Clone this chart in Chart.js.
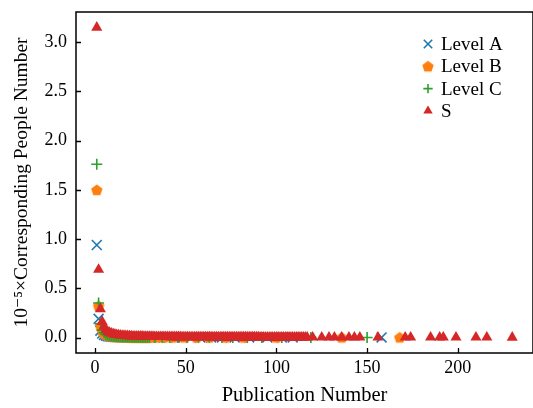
<!DOCTYPE html>
<html>
<head>
<meta charset="utf-8">
<script src="https://cdn.jsdelivr.net/npm/chart.js@4.4.1/dist/chart.umd.min.js"></script>
<style>
  html, body { margin: 0; padding: 0; background: #fff; }
  #chart { display: block; }
</style>
</head>
<body>
<canvas id="chart" width="533" height="408"></canvas>
<script>
// publication number (x) and 10^-5 x people number (y) per level
const aX = [1,2,3,4,5,6,7,8,9,10,11,12,13,14,15,16,17,18,19,20,21,22,23,24,25,26,27,28,29,30,
  33,36,40,44,48,53,58,64,70,77,85,95,103,109,158];
const aY = [0.94,0.19,0.07,0.04,0.026,0.018,0.013,0.010,0.008,0.007,
  0.006,0.005,0.0045,0.004,0.0036,0.0033,0.003,0.0028,0.0026,0.0024,
  0.0022,0.0021,0.002,0.0019,0.0018,0.0017,0.0016,0.0015,0.0015,0.0014,
  0.0013,0.0012,0.0011,0.001,0.001,0.0009,0.0009,0.0008,0.0008,0.0007,0.0007,0.0006,0.0006,0.0006,0.0005];

const bX = [1,2,3,4,5,6,7,8,9,10,11,12,13,14,15,16,17,18,19,20,21,22,23,24,25,26,27,28,29,30,
  34,38,43,49,56,63,72,82,100,136,168];
const bY = [1.50,0.32,0.12,0.065,0.042,0.03,0.022,0.017,0.014,0.011,
  0.0095,0.0083,0.0073,0.0065,0.0058,0.0052,0.0047,0.0043,0.004,0.0037,
  0.0034,0.0032,0.003,0.0028,0.0026,0.0025,0.0024,0.0022,0.0021,0.002,
  0.0019,0.0017,0.0016,0.0014,0.0013,0.0012,0.0011,0.001,0.0009,0.0008,0.0007];

const cX = [1,2,3,4,5,6,7,8,9,10,11,12,13,14,15,16,17,18,19,20,21,22,23,24,25,26,27,28,29,30,
  33,37,41,46,51,57,63,70,76,84,92,103,119,150];
const cY = [1.76,0.35,0.14,0.075,0.048,0.034,0.025,0.019,0.015,0.012,
  0.010,0.0088,0.0077,0.0068,0.0061,0.0055,0.005,0.0046,0.0042,0.0039,
  0.0036,0.0034,0.0032,0.003,0.0028,0.0027,0.0025,0.0024,0.0023,0.0022,
  0.002,0.0019,0.0017,0.0016,0.0015,0.0014,0.0013,0.0012,0.0011,0.001,0.0009,0.0009,0.0008,0.0007];

const sX = [1,2,3,4,5,6,7,8,9,10,11,12,13,14,15,16,17,18,19,20,
  21,22,23,24,25,26,27,28,29,30,31,32,33,34,35,36,37,38,39,40,
  41,42,43,44,45,46,47,48,49,50,51,52,53,54,55,56,57,58,59,60,
  61,62,63,64,65,66,67,68,69,70,71,72,73,74,75,76,77,78,79,80,
  81,82,83,84,85,86,87,88,89,90,91,92,93,94,95,96,97,98,99,100,
  101,102,103,104,105,106,107,108,109,110,111,112,113,114,115,116,
  117,120,125,129,132,136,140,143,146,156,171,174,185,190,192,199,210,216,230];
const sY = [3.15,0.69,0.29,0.16,0.11,0.08,0.06,0.05,0.042,0.036,
  0.031,0.027,0.024,0.022,0.020,0.018,0.017,0.015,0.014,0.013,
  0.012,0.012,0.011,0.011,0.010,0.010,0.009,0.009,0.009,0.008,
  0.008,0.008,0.007,0.007,0.007,0.007,0.006,0.006,0.006,0.006,
  0.0058,0.0056,0.0055,0.0053,0.0052,0.005,0.0049,0.0048,0.0047,0.0046,
  0.0045,0.0044,0.0043,0.0042,0.0041,0.004,0.0039,0.0039,0.0038,0.0037,
  0.0036,0.0036,0.0035,0.0034,0.0034,0.0033,0.0033,0.0032,0.0031,0.0031,
  0.003,0.003,0.0029,0.0029,0.0028,0.0028,0.0028,0.0027,0.0027,0.0026,
  0.0026,0.0026,0.0025,0.0025,0.0024,0.0024,0.0024,0.0023,0.0023,0.0023,
  0.0022,0.0022,0.0022,0.0021,0.0021,0.0021,0.002,0.002,0.002,0.002,
  0.0019,0.0019,0.0019,0.0018,0.0018,0.0018,0.0018,0.0017,0.0017,0.0017,
  0.0017,0.0016,0.0016,0.0016,0.0016,0.0015,
  0.0015,0.0014,0.0014,0.0013,0.0013,0.0012,0.0012,0.0012,0.0011,0.001,
  0.001,0.001,0.0009,0.0009,0.0009,0.0008,0.0008,0.0008,0.0007];

const xTicks = [0, 50, 100, 150, 200];
const yTicks = [0.0, 0.5, 1.0, 1.5, 2.0, 2.5, 3.0];
const seriesNames = ['Level A', 'Level B', 'Level C', 'S'];

const serif = "'Liberation Serif', 'DejaVu Serif', serif";

// matplotlib-ish pentagon marker, chart.js has none
function pentagon(color, r) {
  const c = document.createElement('canvas');
  const size = Math.ceil(r * 2 + 2);
  c.width = size; c.height = size;
  const g = c.getContext('2d');
  g.fillStyle = color;
  g.beginPath();
  for (let k = 0; k < 5; k++) {
    const ang = -Math.PI / 2 + k * 2 * Math.PI / 5;
    const px = size / 2 + Math.cos(ang) * r;
    const py = size / 2 + Math.sin(ang) * r + 0.5;
    if (k === 0) g.moveTo(px, py); else g.lineTo(px, py);
  }
  g.closePath();
  g.fill();
  return c;
}

const toPts = (xs, ys) => xs.map((x, i) => ({ x: x, y: ys[i] }));

const datasets = [
  { label: seriesNames[0], data: toPts(aX, aY), pointStyle: 'crossRot', radius: 7,
    borderColor: '#1f77b4', backgroundColor: '#1f77b4', borderWidth: 1.6, order: 3 },
  { label: seriesNames[1], data: toPts(bX, bY), pointStyle: pentagon('#ff7f0e', 6), radius: 6,
    borderColor: '#ff7f0e', backgroundColor: '#ff7f0e', borderWidth: 0, order: 2 },
  { label: seriesNames[2], data: toPts(cX, cY), pointStyle: 'cross', radius: 5.5,
    borderColor: '#2ca02c', backgroundColor: '#2ca02c', borderWidth: 1.6, order: 1 },
  { label: seriesNames[3], data: toPts(sX, sY), pointStyle: 'triangle', radius: 6.4,
    borderColor: '#d62728', backgroundColor: '#d62728', borderWidth: 0, order: 0 }
];

// box frame + inward ticks like matplotlib
const framePlugin = {
  id: 'frame',
  afterDraw(chart) {
    const ctx = chart.ctx;
    const a = chart.chartArea;
    const xs = chart.scales.x, ys = chart.scales.y;
    ctx.save();
    ctx.strokeStyle = '#000';
    ctx.lineWidth = 1.3;
    ctx.beginPath();
    xs.ticks.forEach((t, i) => {
      const px = Math.round(xs.getPixelForTick(i)) + 0.5;
      ctx.moveTo(px, a.bottom); ctx.lineTo(px, a.bottom - 5);
    });
    ys.ticks.forEach((t, i) => {
      const py = Math.round(ys.getPixelForTick(i)) + 0.5;
      ctx.moveTo(a.left, py); ctx.lineTo(a.left + 5, py);
    });
    ctx.stroke();
    ctx.lineWidth = 1.5;
    ctx.strokeRect(a.left, a.top, a.right - a.left, a.bottom - a.top);
    ctx.restore();
  }
};

// legend drawn inside the plot, top right
const legendPlugin = {
  id: 'insideLegend',
  afterDraw(chart) {
    const ctx = chart.ctx;
    const x0 = 428, y0 = 44, step = 22.3;
    ctx.save();
    ctx.font = '19px ' + serif;
    ctx.textBaseline = 'middle';
    chart.data.datasets.forEach((ds, i) => {
      const y = y0 + i * step;
      ctx.fillStyle = ds.backgroundColor;
      ctx.strokeStyle = ds.borderColor;
      ctx.lineWidth = ds.borderWidth;
      Chart.helpers.drawPoint(ctx, {
        pointStyle: ds.pointStyle, radius: ds.radius * 0.85, rotation: 0, borderWidth: ds.borderWidth
      }, x0, y);
      ctx.fillStyle = '#000';
      ctx.fillText(ds.label, x0 + 13, y + 1);
    });
    ctx.restore();
  }
};

new Chart(document.getElementById('chart'), {
  type: 'scatter',
  data: { datasets: datasets },
  options: {
    responsive: false,
    animation: false,
    layout: { autoPadding: false, padding: { top: 12, right: -1, left: 0, bottom: 0 } },
    plugins: {
      legend: { display: false },
      tooltip: { enabled: false }
    },
    scales: {
      x: {
        type: 'linear',
        min: -10.45,
        max: 241.45,
        afterBuildTicks: (s) => { s.ticks = xTicks.map(v => ({ value: v })); },
        afterFit: (s) => { s.height = 55; s.paddingLeft = 0; s.paddingRight = 0; },
        grid: { display: false, drawTicks: false },
        border: { display: false },
        ticks: { color: '#000', padding: 4, font: { family: serif, size: 18 },
          callback: (v) => String(v) },
        title: { display: true, text: 'Publication Number', color: '#000',
          font: { family: serif, size: 20.5 }, padding: { top: 0, bottom: 0 } }
      },
      y: {
        type: 'linear',
        min: -0.1575,
        max: 3.3075,
        afterBuildTicks: (s) => { s.ticks = yTicks.map(v => ({ value: v })); },
        afterFit: (s) => { s.width = 76; s.paddingTop = 0; s.paddingBottom = 0; },
        grid: { display: false, drawTicks: false },
        border: { display: false },
        ticks: { color: '#000', padding: 9, font: { family: serif, size: 18 },
          callback: (v) => v.toFixed(1) },
        title: { display: true, text: '10\u207B\u2075\u00D7Corresponding People Number', color: '#000',
          font: { family: serif, size: 19.5 }, padding: { top: 10, bottom: 0 } }
      }
    }
  },
  plugins: [framePlugin, legendPlugin]
});
</script>
</body>
</html>
